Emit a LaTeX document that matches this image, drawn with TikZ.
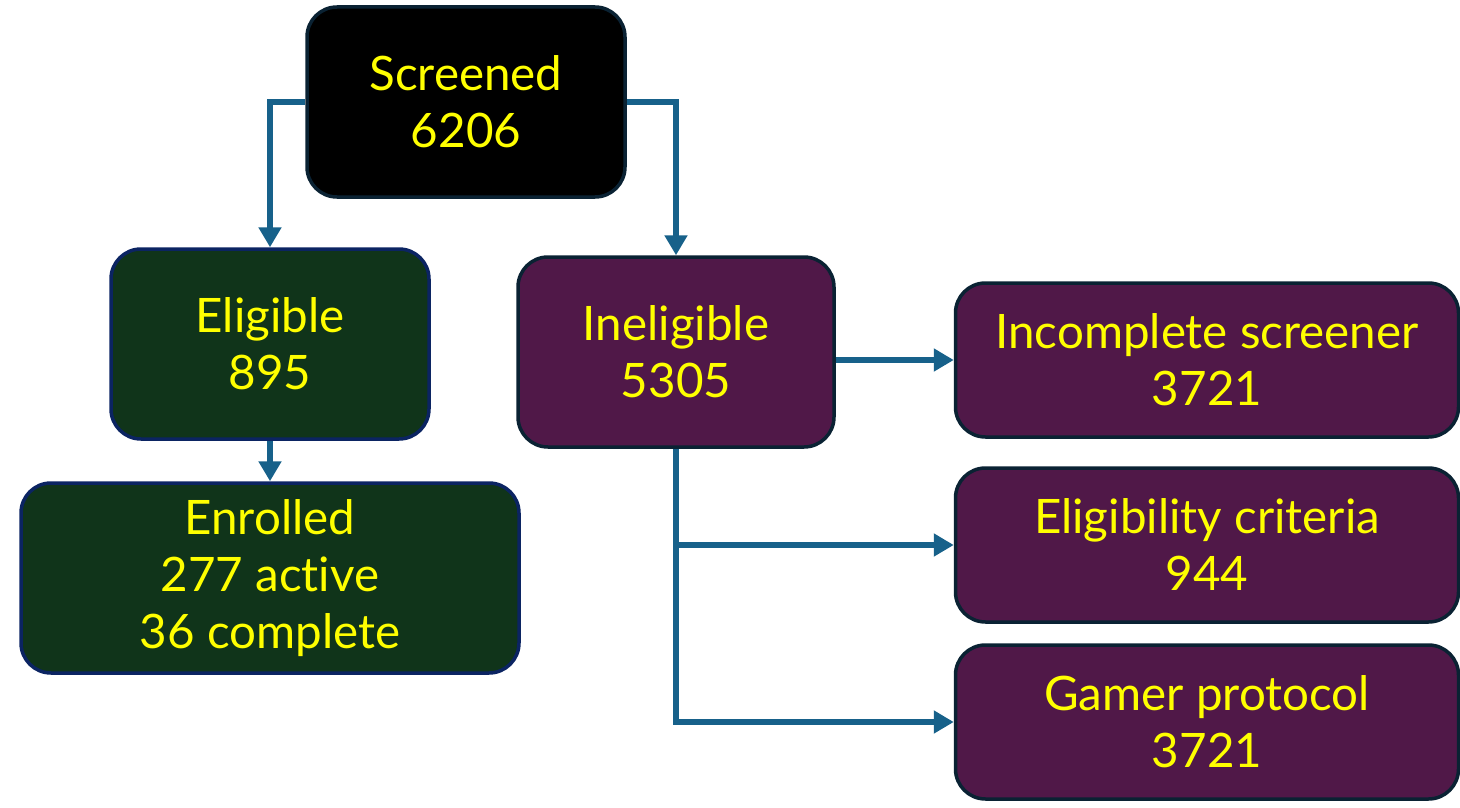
\documentclass[tikz,border=0pt]{standalone}
\usepackage{fontspec}
\setmainfont[Ligatures={NoCommon,NoRare,NoContextual}]{Lato}
\usetikzlibrary{arrows.meta,positioning}
\definecolor{flowblue}{HTML}{17618A}
\definecolor{boxedge}{HTML}{0A2233}
\definecolor{greenedge}{HTML}{0B2462}
\definecolor{greenfill}{HTML}{10341A}
\definecolor{purplefill}{HTML}{501848}
\definecolor{labelyellow}{HTML}{FFFF00}

\tikzset{
  box/.style={draw=boxedge, line width=3.5pt, rounded corners=30pt, align=center,
    text=labelyellow, inner sep=0pt, font=\fontsize{47.5}{57}\selectfont},
  topbox/.style={box, fill=black, minimum width=318pt, minimum height=190pt},
  okbox/.style={box, draw=greenedge, fill=greenfill, minimum height=190pt},
  nobox/.style={box, fill=purplefill, minimum height=190pt},
  sidebox/.style={box, fill=purplefill, minimum width=503pt, minimum height=154pt},
  flow/.style={draw=flowblue, line width=6.5pt, -{Triangle[length=20pt,width=22pt]}}
}

\begin{document}
\begin{tikzpicture}[x=1pt,y=-1pt]
\useasboundingbox (0,0) rectangle (1460,808);

\node[topbox] (screened) at (466,102) {Screened\\6206};
\node[okbox, minimum width=318pt] (eligible) at (270,344) {Eligible\\895};
\node[okbox, minimum width=498pt] (enrolled) at (270,578) {Enrolled\\277 active\\36 complete};
\node[nobox, minimum width=316pt] (ineligible) at (676,352) {Ineligible\\5305};
\node[sidebox] (incomplete) at (1207,360) {Incomplete screener\\3721};
\node[sidebox] (criteria) at (1207,545) {Eligibility criteria\\944};
\node[sidebox] (gamer) at (1207,722) {Gamer protocol\\3721};

\draw[flow] (screened.west) -| (eligible.north);
\draw[flow] (screened.east) -| (ineligible.north);
\draw[flow] (eligible.south) -- (enrolled.north);
\draw[flow] (ineligible.east |- incomplete.west) -- (incomplete.west);
\draw[flow] (ineligible.south) |- (criteria.west);
\draw[flow] (ineligible.south) |- (gamer.west);
\end{tikzpicture}
\end{document}
